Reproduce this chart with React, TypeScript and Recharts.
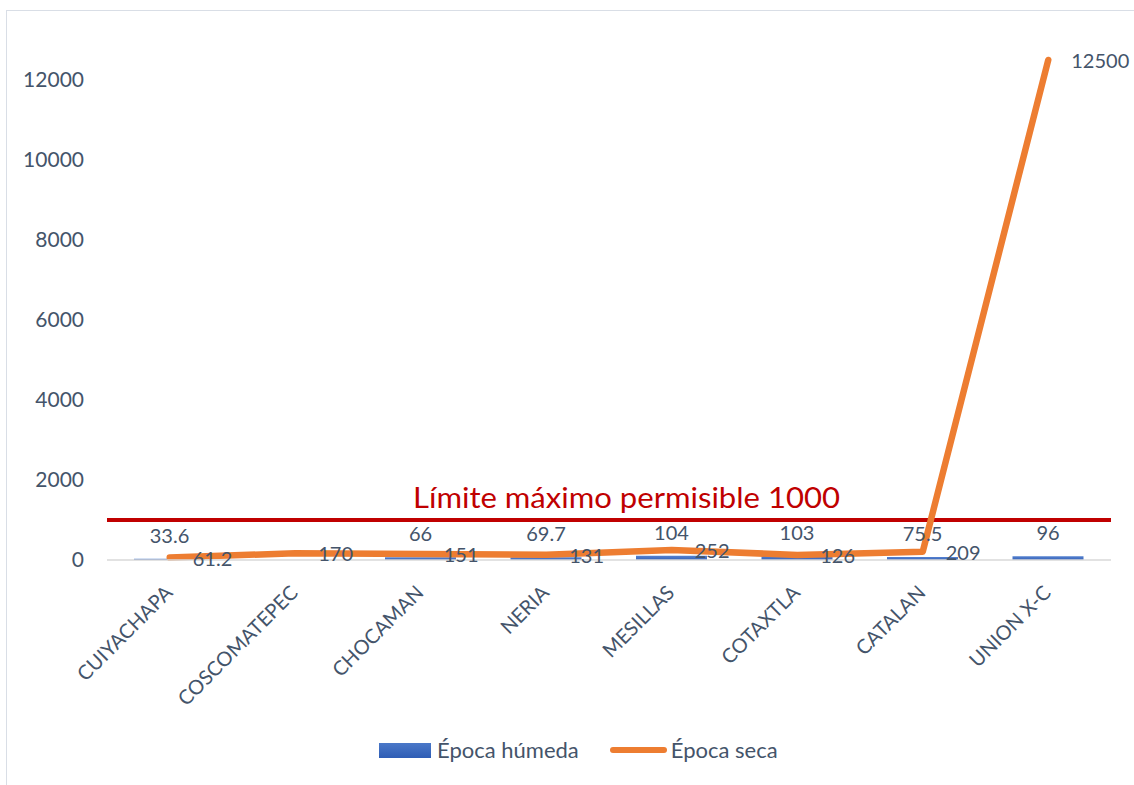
import { ComposedChart, Bar, Line, XAxis, YAxis, ReferenceLine, LabelList } from 'recharts';

const sites = ['CUIYACHAPA', 'COSCOMATEPEC', 'CHOCAMAN', 'NERIA', 'MESILLAS', 'COTAXTLA', 'CATALAN', 'UNION X-C'];
const wetSeason = [33.6, null, 66, 69.7, 104, 103, 75.5, 96];
const drySeason = [61.2, 170, 151, 131, 252, 126, 209, 12500];
const yTicks = [0, 2000, 4000, 6000, 8000, 10000, 12000];
const limitValue = 1000;

const chartData = sites.map((site, i) => ({
  site,
  humeda: wetSeason[i],
  seca: drySeason[i],
}));

const TEXT = '#44546A';
const FONT = 'Lato, "Open Sans", sans-serif';

const SiteTick = ({ x, y, payload }: any) => (
  <text
    x={x + 4}
    y={y + 26}
    transform={`rotate(-45 ${x + 4} ${y + 26})`}
    textAnchor="end"
    fill={TEXT}
    fontSize={20}
    fontFamily={FONT}
  >
    {payload.value}
  </text>
);

// dry-season values sit just right of each point
const DryLabel = ({ x, y, value }: any) => (
  <text x={x + 23} y={y + 1} dy="0.355em" fill={TEXT} fontSize={20} fontFamily={FONT}>
    {value}
  </text>
);

const LimitLabel = ({ viewBox }: any) => (
  <text
    x={viewBox.x + 306}
    y={viewBox.y - 12}
    fill="#C00000"
    fontSize={29}
    fontFamily={FONT}
    textLength={427}
    lengthAdjust="spacingAndGlyphs"
  >
    {`Límite máximo permisible ${limitValue}`}
  </text>
);

export default function App() {
  return (
    <div style={{ position: 'absolute', left: 0, top: 0, width: 1134, height: 785, overflow: 'hidden', background: '#fff' }}>
      <div style={{ position: 'absolute', left: 6, top: 10, width: 1160, height: 820, border: '1px solid #D9DEE6' }} />
      <ComposedChart
        width={1134}
        height={785}
        data={chartData}
        margin={{ top: 40, right: 23, left: 0, bottom: 0 }}
        style={{ position: 'absolute', left: 0, top: 0 }}
      >
        <defs>
          <linearGradient id="wetFill" x1="0" y1="0" x2="0" y2="1">
            <stop offset="0%" stopColor="#5582D0" />
            <stop offset="100%" stopColor="#3762B8" />
          </linearGradient>
        </defs>
        <XAxis
          dataKey="site"
          interval={0}
          tickLine={false}
          axisLine={{ stroke: '#D9D9D9', strokeWidth: 1.5 }}
          tick={<SiteTick />}
          height={225}
        />
        <YAxis
          domain={[0, 13000]}
          ticks={yTicks}
          width={107}
          tickLine={false}
          axisLine={false}
          tickMargin={17}
          tick={{ fill: TEXT, fontSize: 21, fontFamily: FONT }}
        />
        <ReferenceLine y={limitValue} stroke="#C00000" strokeWidth={4} label={<LimitLabel />} />
        <Bar dataKey="humeda" name="Época húmeda" fill="url(#wetFill)" barSize={71} isAnimationActive={false}>
          <LabelList dataKey="humeda" position="top" offset={16} fill={TEXT} fontSize={20} fontFamily={FONT} />
        </Bar>
        <Line
          dataKey="seca"
          name="Época seca"
          type="linear"
          stroke="#ED7D31"
          strokeWidth={6.5}
          strokeLinecap="round"
          strokeLinejoin="round"
          dot={false}
          isAnimationActive={false}
        >
          <LabelList dataKey="seca" content={<DryLabel />} />
        </Line>
      </ComposedChart>
      <div style={{ position: 'absolute', top: 737, left: 379, display: 'flex', alignItems: 'center', fontFamily: FONT, fontSize: 22, color: TEXT, lineHeight: '26px' }}>
        <span style={{ width: 52, height: 15, background: 'linear-gradient(#4A78C8, #2F5DB5)', display: 'inline-block' }} />
        <span style={{ marginLeft: 6 }}>Época húmeda</span>
        <span style={{ width: 57, height: 6, borderRadius: 3, background: '#ED7D31', display: 'inline-block', marginLeft: 31 }} />
        <span style={{ marginLeft: 4 }}>Época seca</span>
      </div>
    </div>
  );
}
